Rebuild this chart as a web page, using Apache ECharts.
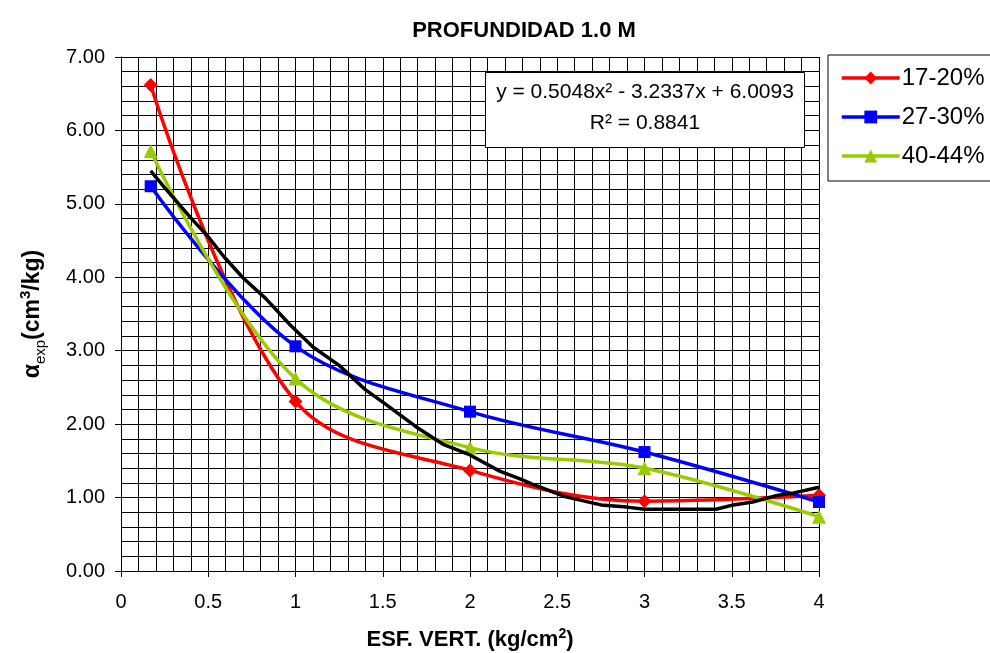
<!DOCTYPE html>
<html>
<head>
<meta charset="utf-8">
<script src="https://cdn.jsdelivr.net/npm/echarts@6/dist/echarts.min.js"></script>
<style>
  html, body { margin: 0; padding: 0; background: #fff; }
  #chart { width: 990px; height: 653px; }
</style>
</head>
<body>
<div id="chart"></div>
<script>
// esfuerzo vertical (kg/cm2)
const esf = [0.17, 1, 2, 3, 4];
// alfa exp por humedad
const h17_20 = [6.62, 2.31, 1.37, 0.95, 1.03];
const h27_30 = [5.24, 3.06, 2.17, 1.62, 0.94];
const h40_44 = [5.72, 2.62, 1.68, 1.40, 0.74];
// linea de tendencia negra
const trendX = [0.17, 0.25, 0.4, 0.5, 0.59, 0.7, 0.83, 0.97, 1.1, 1.25, 1.4, 1.5, 1.69, 1.85, 2.0, 2.17, 2.29, 2.36, 2.55, 2.75, 2.9, 3.0, 3.2, 3.41, 3.51, 3.62, 3.76, 3.85, 4.0];
const trendY = [5.45, 5.22, 4.81, 4.55, 4.28, 3.99, 3.71, 3.35, 3.05, 2.80, 2.47, 2.30, 1.965, 1.72, 1.58, 1.36, 1.25, 1.18, 1.01, 0.90, 0.87, 0.84, 0.84, 0.84, 0.90, 0.94, 1.03, 1.06, 1.14];
const names = ['17-20%', '27-30%', '40-44%'];

const font = 'Liberation Sans, Arial, sans-serif';

function pairs(xs, ys) {
  return xs.map((x, i) => [x, ys[i]]);
}

let myChart = echarts.init(document.getElementById('chart'));

let option = {
  animation: false,
  title: {
    text: 'PROFUNDIDAD 1.0 M',
    left: 519,
    top: 15,
    textAlign: 'center',
    textStyle: { fontFamily: font, fontSize: 22, fontWeight: 'bold', color: '#000' }
  },
  grid: { left: 121, right: 171, top: 57, bottom: 82, outerBoundsMode: 'none' },
  legend: {
    data: names,
    orient: 'vertical',
    left: 828,
    top: 55,
    padding: [11, 40, 13, 12],
    itemGap: 15,
    itemWidth: 58,
    itemHeight: 16,
    borderColor: '#000',
    borderWidth: 1,
    lineStyle: { width: 3.5 },
    textStyle: { fontFamily: font, fontSize: 24, color: '#000', padding: [0, 0, 0, -3] }
  },
  xAxis: {
    type: 'value',
    min: 0,
    max: 4,
    interval: 0.5,
    name: 'ESF. VERT. (kg/cm{p|2})',
    nameLocation: 'middle',
    nameGap: 56,
    nameTextStyle: {
      fontFamily: font, fontSize: 22, fontWeight: 'bold', color: '#000', lineHeight: 26,
      rich: { p: { fontFamily: font, fontSize: 14, fontWeight: 'bold', verticalAlign: 'top', lineHeight: 26 } }
    },
    axisLine: { show: true, lineStyle: { color: '#000', width: 1 } },
    axisTick: { show: true, inside: false, length: 6, lineStyle: { color: '#000' } },
    minorTick: { show: false, splitNumber: 5 },
    splitLine: { show: true, lineStyle: { color: '#000', width: 1 } },
    minorSplitLine: { show: true, lineStyle: { color: '#000', width: 1 } },
    axisLabel: {
      fontFamily: font, fontSize: 20, color: '#000', margin: 21,
      formatter: v => String(v)
    }
  },
  yAxis: {
    type: 'value',
    min: 0,
    max: 7,
    interval: 1,
    name: '{a|α}{s|exp}{a|(cm}{p|3}{a|/kg)}',
    nameLocation: 'middle',
    nameGap: 73,
    nameRotate: 90,
    nameTextStyle: {
      rich: {
        a: { fontFamily: font, fontSize: 23, fontWeight: 'bold', color: '#000', lineHeight: 30 },
        s: { fontFamily: font, fontSize: 15, color: '#000', verticalAlign: 'bottom', lineHeight: 30 },
        p: { fontFamily: font, fontSize: 15, fontWeight: 'bold', color: '#000', verticalAlign: 'top', lineHeight: 30 }
      }
    },
    axisLine: { show: true, lineStyle: { color: '#000', width: 1 } },
    axisTick: { show: true, inside: false, length: 6, lineStyle: { color: '#000' } },
    minorTick: { show: false, splitNumber: 5 },
    splitLine: { show: true, lineStyle: { color: '#000', width: 1 } },
    minorSplitLine: { show: true, lineStyle: { color: '#000', width: 1 } },
    axisLabel: {
      fontFamily: font, fontSize: 20, color: '#000', margin: 16,
      formatter: v => v.toFixed(2)
    }
  },
  series: [
    {
      name: names[0],
      type: 'line',
      smooth: 0.35,
      data: pairs(esf, h17_20),
      symbol: 'diamond',
      symbolSize: 14,
      color: '#FF0000',
      lineStyle: { width: 3.5, color: '#FF0000' },
      itemStyle: { color: '#FF0000' },
      z: 3
    },
    {
      name: names[1],
      type: 'line',
      smooth: 0.35,
      data: pairs(esf, h27_30),
      symbol: 'rect',
      symbolSize: 12,
      color: '#0000FF',
      lineStyle: { width: 3.5, color: '#0000FF' },
      itemStyle: { color: '#0000FF' },
      z: 3
    },
    {
      name: names[2],
      type: 'line',
      smooth: 0.35,
      data: pairs(esf, h40_44),
      symbol: 'triangle',
      symbolSize: 14,
      color: '#99CC00',
      lineStyle: { width: 3.5, color: '#99CC00' },
      itemStyle: { color: '#99CC00' },
      z: 3
    },
    {
      name: 'tendencia',
      type: 'line',
      smooth: false,
      data: pairs(trendX, trendY),
      symbol: 'none',
      color: '#000',
      lineStyle: { width: 3.5, color: '#000' },
      z: 4
    }
  ],
  graphic: [
    {
      type: 'rect',
      left: 485,
      top: 72,
      shape: { width: 319, height: 75 },
      style: { fill: '#fff', stroke: '#000', lineWidth: 1 },
      z: 10
    },
    {
      type: 'text',
      x: 645,
      y: 92,
      style: {
        text: 'y = 0.5048x² - 3.2337x + 6.0093',
        fontFamily: font, fontSize: 21, fill: '#000',
        align: 'center', verticalAlign: 'middle'
      },
      z: 11
    },
    {
      type: 'text',
      x: 645,
      y: 123,
      style: {
        text: 'R² = 0.8841',
        fontFamily: font, fontSize: 21, fill: '#000',
        align: 'center', verticalAlign: 'middle'
      },
      z: 11
    }
  ]
};

myChart.setOption(option);
</script>
</body>
</html>
